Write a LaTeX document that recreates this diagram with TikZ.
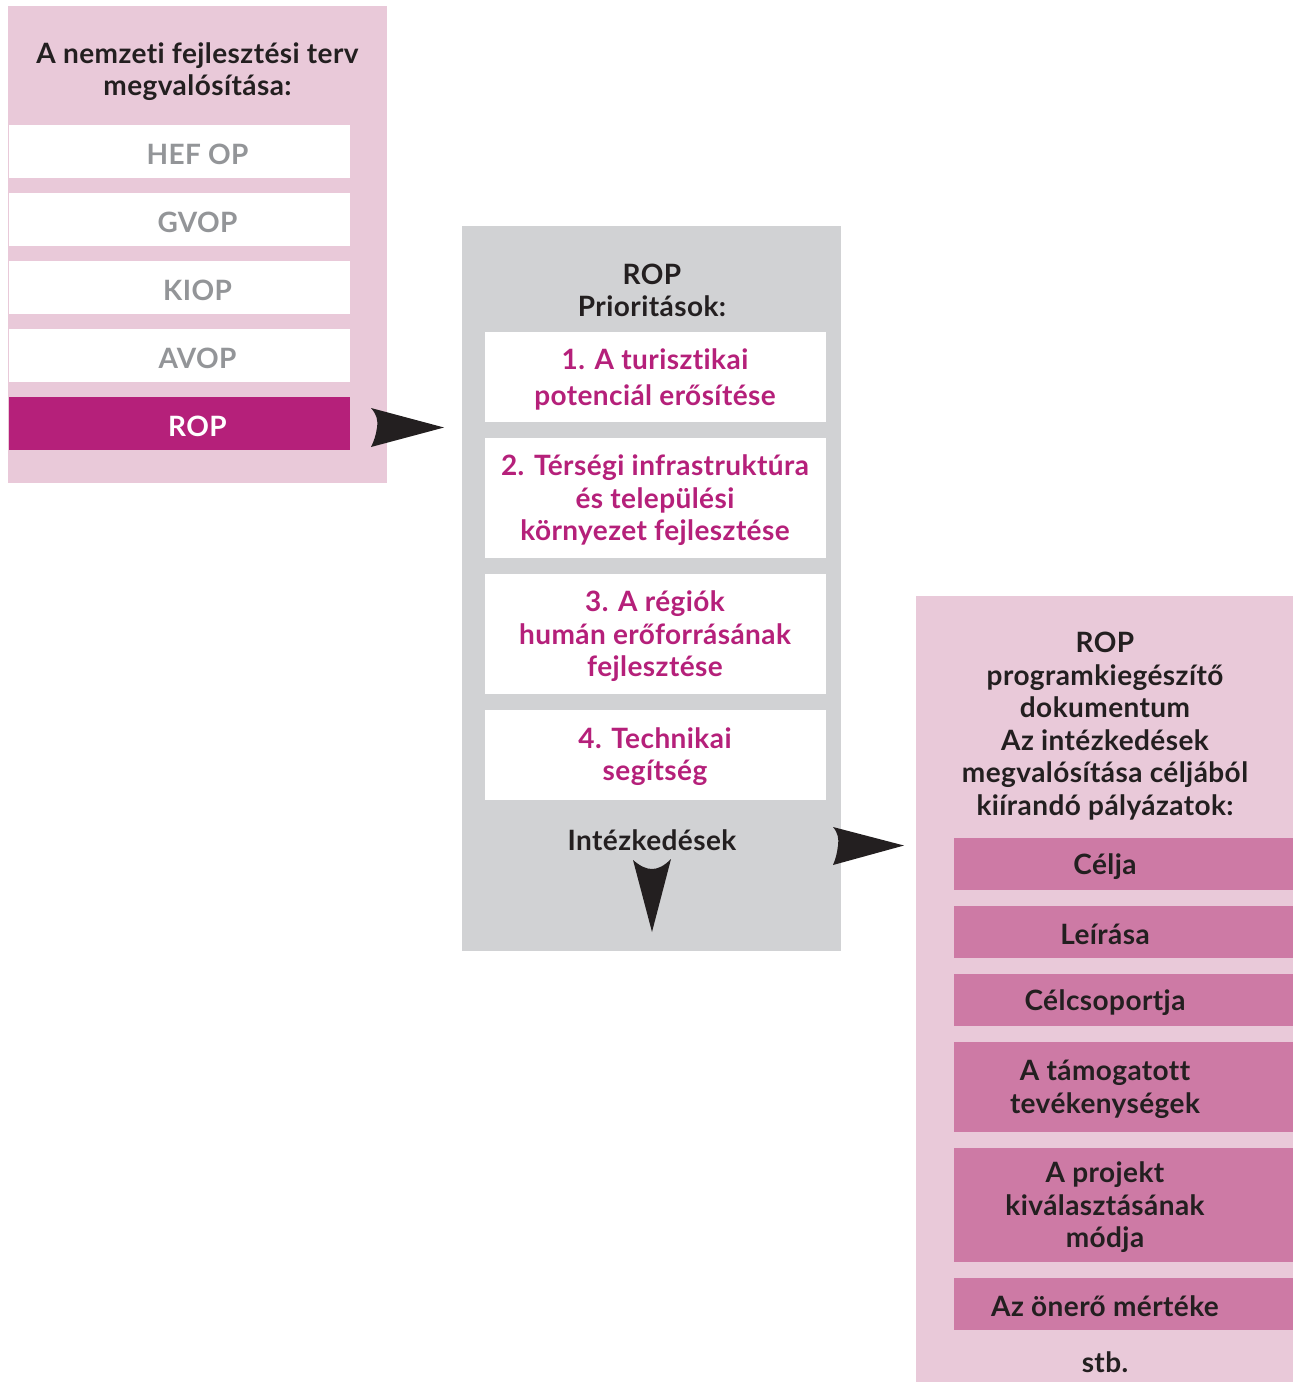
\documentclass[tikz,border=0pt]{standalone}
\usepackage{fontspec}
\setmainfont{Lato}[UprightFont=* Bold, Ligatures=NoCommon, LetterSpace=1.5]
\definecolor{pinkbg}{HTML}{E9C9D9}
\definecolor{greybg}{HTML}{D1D2D4}
\definecolor{magenta}{HTML}{B5207A}
\definecolor{midpink}{HTML}{CD7AA5}
\definecolor{greytxt}{HTML}{939598}
\definecolor{darktxt}{HTML}{231F20}
\tikzset{
  panel/.style={fill=#1, draw=none, inner sep=0pt, outer sep=0pt},
  boxshape/.style={fill=#1, draw=none, inner sep=0pt, outer sep=0pt},
  txt/.style={text=#1, align=center, inner sep=0pt, yshift=-2.5pt, font=\fontsize{28}{32.5}\selectfont},
  arrowfill/.style={fill=darktxt, draw=none}
}
\begin{document}
\begin{tikzpicture}[x=1pt,y=-1pt]
\useasboundingbox (0,0) rectangle (1293,1382);
% panels
\path[panel=pinkbg] (8,6) rectangle (387,483);
\path[panel=greybg] (462,226) rectangle (841,951);
\path[panel=pinkbg] (916,596) rectangle (1293,1382);
% left panel
\node[txt=darktxt] (lt) at (197.5,69) {A nemzeti fejlesztési terv\\megvalósítása:};
\foreach \n/\a/\b/\t in {hef/125/178/HEF OP, gvop/193/246/GVOP, kiop/261/314/KIOP, avop/329/382/AVOP}{
  \path[boxshape=white] (9,\a) rectangle (350,\b);
  \node[txt=greytxt] (\n) at (197.5,{(\a+\b)/2}) {\t};
}
\path[boxshape=magenta] (9,397) rectangle (350,450);
\node[txt=white] (rop) at (197.5,423.5) {ROP};
% arrow 1
\fill[arrowfill] (371,408) .. controls (377,415) and (378,420) .. (377,427.5) .. controls (376,435) and (374,441) .. (371,447) -- (444,427.5) -- cycle;
% middle panel
\node[txt=darktxt] (mt) at (652,288) {ROP\\Prioritások:};
\path[boxshape=white] (485,332) rectangle (826,422);
\node[txt=magenta] (p1) at (655,377) {1. A turisztikai\\[3pt]potenciál erősítése};
\path[boxshape=white] (485,438) rectangle (826,558);
\node[txt=magenta] (p2) at (655,498) {2. Térségi infrastruktúra\\és települési\\környezet fejlesztése};
\path[boxshape=white] (485,574) rectangle (826,694);
\node[txt=magenta] (p3) at (655,634) {3. A régiók\\humán erőforrásának\\fejlesztése};
\path[boxshape=white] (485,710) rectangle (826,800);
\node[txt=magenta] (p4) at (655,754) {4. Technikai\\segítség};
\node[txt=darktxt] (int) at (652,838) {Intézkedések};
% down arrow
\fill[arrowfill] (633,860) .. controls (640,866) and (646,869) .. (652,869) .. controls (658,869) and (664,866) .. (671,859) -- (652,932) -- cycle;
% arrow 2
\fill[arrowfill] (833,827) .. controls (838,833) and (839,839) .. (838,845.5) .. controls (837,853) and (836,858) .. (833,865) -- (904,845.5) -- cycle;
% right panel
\node[txt=darktxt] (rt) at (1105,723.5) {ROP\\programkiegészítő\\dokumentum\\Az intézkedések\\megvalósítása céljából\\kiírandó pályázatok:};
\foreach \n/\a/\b/\t in {celja/838/890/Célja, leir/906/958/Leírása, celcs/974/1026/Célcsoportja, tam/1042/1132/{A támogatott\\tevékenységek}, proj/1148/1262/{A projekt\\kiválasztásának\\módja}, oner/1278/1330/Az önerő mértéke}{
  \path[boxshape=midpink] (954,\a) rectangle (1293,\b);
  \node[txt=darktxt] (\n) at (1105,{(\a+\b)/2}) {\t};
}
\node[txt=darktxt] (stb) at (1105,1360) {stb.};
\end{tikzpicture}
\end{document}
